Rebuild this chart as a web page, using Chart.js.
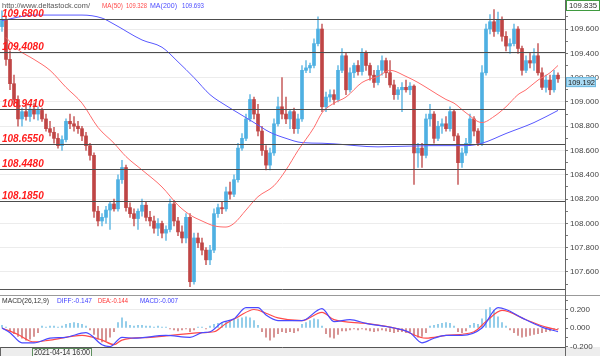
<!DOCTYPE html>
<html><head><meta charset="utf-8">
<script src="https://cdn.jsdelivr.net/npm/chart.js@4.4.0/dist/chart.umd.min.js"></script>
<style>
html,body{margin:0;padding:0;background:#fff;width:600px;height:356px;overflow:hidden}
#main{position:absolute;left:0;top:0;width:600px;height:290px}
#macd{position:absolute;left:0;top:290px;width:600px;height:66px}
</style></head><body>
<div id="main"><canvas id="c1"></canvas></div>
<div id="macd"><canvas id="c2"></canvas></div>
<script>
// ---------- DATA ----------
const opens = [
109.62,109.68,109.35,109.15,109.02,108.86,108.92,108.88,108.94,108.90,
108.93,108.86,108.78,108.75,108.70,108.64,108.69,108.84,108.82,108.80,
108.78,108.72,108.64,108.56,108.10,108.02,108.05,108.11,108.16,108.12,
108.36,108.46,108.13,108.08,108.04,108.10,108.15,108.05,108.02,107.96,
108.00,107.92,107.95,108.16,108.02,107.93,107.88,108.05,107.52,107.88,
107.84,107.78,107.70,107.78,108.08,108.13,108.12,108.26,108.24,108.36,
108.62,108.70,108.86,109.02,108.90,108.76,108.60,108.48,108.58,108.82,
108.96,108.90,108.86,108.92,108.78,108.86,109.26,109.28,109.30,109.48,
109.60,108.96,109.04,109.06,109.02,109.26,109.38,109.10,109.24,109.30,
109.25,109.40,109.30,109.22,109.16,109.26,109.34,109.24,109.14,109.06,
109.10,109.12,109.10,109.13,108.58,108.62,108.56,108.86,108.90,108.70,
108.80,108.82,108.78,108.92,108.72,108.50,108.58,108.66,108.86,108.76,
108.66,109.24,109.60,109.66,109.58,109.68,109.54,109.46,109.48,109.60,
109.44,109.26,109.34,109.32,109.38,109.24,109.12,109.18,109.10,109.22];
const highs = [
109.75,109.70,109.42,109.22,109.05,108.95,108.98,108.97,108.99,108.96,
108.95,108.90,108.84,108.79,108.74,108.72,108.86,108.90,108.88,108.84,
108.80,108.75,108.66,108.58,108.14,108.08,108.14,108.18,108.20,108.40,
108.52,108.48,108.17,108.12,108.12,108.20,108.18,108.10,108.06,108.04,
108.02,107.98,108.20,108.19,108.05,107.98,108.08,108.08,107.92,107.92,
107.88,107.80,107.82,108.12,108.16,108.18,108.30,108.34,108.40,108.66,
108.74,108.90,109.06,109.04,108.98,108.80,108.64,108.62,108.86,109.04,
109.20,109.04,108.94,108.95,108.90,109.30,109.34,109.32,109.52,109.70,
109.64,109.08,109.10,109.10,109.30,109.44,109.40,109.28,109.32,109.34,
109.44,109.42,109.32,109.26,109.30,109.38,109.36,109.34,109.18,109.12,
109.16,109.18,109.16,109.14,108.66,108.66,108.90,108.98,108.92,108.84,
108.86,108.88,108.96,108.94,108.74,108.62,108.70,108.90,108.88,108.78,
109.30,109.64,109.72,109.76,109.74,109.70,109.58,109.52,109.64,109.62,
109.46,109.38,109.40,109.44,109.48,109.28,109.22,109.22,109.26,109.24];
const lows = [
109.58,109.30,109.10,108.98,108.80,108.80,108.85,108.84,108.86,108.85,
108.84,108.76,108.72,108.66,108.62,108.60,108.67,108.78,108.76,108.74,
108.68,108.60,108.52,108.05,107.98,107.98,108.00,107.95,108.10,108.10,
108.33,108.10,108.05,107.98,107.95,108.06,108.02,107.98,107.92,107.90,
107.88,107.86,107.93,107.98,107.90,107.84,107.84,107.48,107.50,107.80,
107.74,107.66,107.66,107.76,108.05,108.08,108.10,108.20,108.22,108.34,
108.60,108.68,108.84,108.86,108.72,108.56,108.44,108.44,108.56,108.80,
108.86,108.82,108.78,108.74,108.74,108.84,109.24,109.24,109.28,109.46,
108.92,108.92,109.00,108.98,109.00,109.24,109.06,109.08,109.20,109.22,
109.22,109.26,109.18,109.12,109.14,109.22,109.20,109.12,109.02,109.02,
108.92,109.08,109.06,108.32,108.46,108.46,108.54,108.80,108.66,108.68,
108.74,108.76,108.76,108.68,108.32,108.46,108.56,108.64,108.72,108.64,
108.64,109.22,109.56,109.54,109.56,109.50,109.42,109.40,109.46,109.40,
109.22,109.24,109.28,109.26,109.22,109.10,109.08,109.06,109.08,109.16];
const closes = [
109.68,109.35,109.15,109.02,108.86,108.92,108.88,108.94,108.90,108.93,
108.86,108.78,108.75,108.70,108.64,108.69,108.84,108.82,108.80,108.78,
108.72,108.64,108.56,108.10,108.02,108.05,108.11,108.16,108.12,108.36,
108.46,108.13,108.08,108.04,108.10,108.15,108.05,108.02,107.96,108.00,
107.92,107.95,108.16,108.02,107.93,107.88,108.05,107.52,107.88,107.84,
107.78,107.70,107.78,108.08,108.13,108.12,108.26,108.24,108.36,108.62,
108.70,108.86,109.02,108.90,108.76,108.60,108.48,108.58,108.82,108.96,
108.90,108.86,108.92,108.78,108.86,109.26,109.28,109.30,109.48,109.60,
108.96,109.04,109.06,109.02,109.26,109.38,109.10,109.24,109.30,109.25,
109.40,109.30,109.22,109.16,109.26,109.34,109.24,109.14,109.06,109.10,
109.12,109.10,109.13,108.58,108.62,108.56,108.86,108.90,108.70,108.80,
108.82,108.78,108.92,108.72,108.50,108.58,108.66,108.86,108.76,108.66,
109.24,109.60,109.66,109.58,109.68,109.54,109.46,109.48,109.60,109.44,
109.26,109.34,109.32,109.38,109.24,109.12,109.18,109.10,109.22,109.19];

// moving averages (candle index, value)
const ma50Idx = [1,4,8,12,16,20,24,28,31,35,40,44,47,50,53,56,58,61,64,68,71,74,78,80,83,86,90,94,97,101,104,107,111,113,116,120,123,126,129,131,134,137,139];
const ma50Val = [109.53,109.43,109.35,109.26,109.12,108.99,108.79,108.66,108.55,108.44,108.30,108.15,108.07,108.02,107.98,107.97,108.00,108.11,108.22,108.31,108.44,108.60,108.79,108.91,108.99,109.04,109.16,109.21,109.26,109.21,109.16,109.10,109.02,108.99,108.91,108.83,108.88,108.96,109.06,109.10,109.18,109.24,109.30];
const ma200Idx = [0,8,20,25,28,35,40,44,48,52,56,59,63,67,71,75,80,83,94,107,116,120,126,133,139];
const ma200Val = [109.67,109.715,109.715,109.69,109.64,109.51,109.45,109.33,109.20,109.06,108.97,108.91,108.83,108.75,108.70,108.665,108.66,108.655,108.63,108.64,108.64,108.66,108.74,108.83,108.93];

// horizontal levels
const levels = [109.68,109.408,108.941,108.655,108.448,108.185];
const levelLabels = ['109.6800','109.4080','108.9410','108.6550','108.4480','108.1850'];

// price axis ticks
const priceTicks = [107.5,107.6,107.7,107.8,107.9,108.0,108.1,108.2,108.3,108.4,108.5,108.6,108.7,108.8,108.9,109.0,109.1,109.2,109.3,109.4,109.5,109.6,109.7,109.8];
const priceLabelled = [107.6,107.8,108.0,108.2,108.4,108.6,108.8,109.0,109.2,109.4,109.6];
const priceTopLabel = '109.835';
const lastPrice = 109.192;

// MACD
const macdHist = [
0.03,0.01,-0.03,-0.06,-0.09,-0.11,-0.13,-0.12,-0.09,-0.05,
0.02,0.01,0.02,0.02,0.01,0.02,0.04,0.05,0.06,0.05,
0.04,0.02,-0.02,-0.07,-0.12,-0.15,-0.14,-0.10,-0.04,0.06,
0.11,0.07,0.03,0.02,0.03,0.03,0.02,0.02,0.01,0.02,
0.01,0.01,-0.01,-0.02,-0.03,-0.02,-0.01,-0.04,-0.02,0.01,
0.01,-0.01,0.02,0.04,0.05,0.06,0.07,0.08,0.09,0.10,
0.11,0.12,0.11,0.08,0.03,-0.04,-0.10,-0.13,-0.10,-0.06,
-0.04,-0.05,-0.04,-0.05,-0.03,0.04,0.06,0.08,0.10,0.09,
0.02,-0.06,-0.10,-0.11,-0.07,-0.03,-0.03,-0.02,-0.01,-0.02,
-0.01,-0.02,-0.03,-0.04,-0.03,-0.02,-0.03,-0.04,-0.05,-0.04,
-0.04,-0.05,-0.04,-0.08,-0.10,-0.09,-0.05,0.02,0.03,0.04,
0.05,0.06,0.05,0.02,-0.04,-0.05,-0.03,0.03,0.05,0.04,
0.10,0.20,0.22,0.19,0.12,0.06,0.02,-0.02,-0.05,-0.08,
-0.10,-0.09,-0.08,-0.07,-0.06,-0.05,-0.04,-0.03,-0.02,-0.01];
const diffIdx = [0,2,5,8,12,16,21,25,27,30,33,41,47,50,52,55,58,61,64,66,69,75,80,83,87,91,98,102,105,108,111,115,120,124,126,130,135,139];
const diffVal = [0.0,-0.05,-0.16,-0.16,-0.11,-0.10,-0.05,-0.18,-0.20,-0.10,-0.11,-0.08,-0.10,-0.05,-0.04,0.06,0.10,0.22,0.22,0.14,0.08,0.08,0.21,0.07,0.09,0.05,0.0,-0.05,-0.16,-0.11,-0.08,-0.08,0.0,0.22,0.20,0.11,0.01,-0.04];
const deaIdx = [0,4,8,12,20,25,28,30,37,50,53,56,59,63,66,69,75,80,83,91,100,106,111,118,121,125,131,136,139];
const deaVal = [0.0,-0.07,-0.15,-0.13,-0.08,-0.13,-0.18,-0.13,-0.10,-0.05,-0.04,0.05,0.12,0.20,0.16,0.11,0.08,0.17,0.09,0.05,-0.02,-0.11,-0.08,-0.04,0.07,0.19,0.09,0.01,-0.02];
const macdTicks = [-0.2,-0.1,0,0.1,0.2,0.3];
const macdLabelled = [-0.2,0,0.2];

const headerSite = 'http://www.deltastock.com/';
const headerMA = [['MA(50)','#ff4d4d'],['109.328','#ff4d4d'],['MA(200)','#4d4dff'],['109.693','#4d4dff']];
const macdHeader = [['MACD(26,12,9)','#333'],['DIFF:-0.147','#4040ff'],['DEA:-0.144','#ff3030'],['MACD:-0.007','#4040ff']];
const cursorDate = '2021-04-14 16:00';

// ---------- CHART ----------
const FONT = 'Liberation Sans';
const xMin = -0.5, xMax = 140.75;
const AXW = 35;
const upCol = '#4eb0e2', dnCol = '#bf4545';
const upWick = '#74c0e6', dnWick = '#cc6a6a';
const idx = closes.map((_, i) => i);
const bodyCols = idx.map(i => closes[i] >= opens[i] ? upCol : dnCol);
const wickCols = idx.map(i => closes[i] >= opens[i] ? upWick : dnWick);
const near = (a, b) => Math.abs(a - b) < 1e-6;

const mainOverlay = {
  id: 'mainOverlay',
  afterDatasetsDraw(chart) {
    const {ctx, chartArea: ca, scales: {y}} = chart;
    ctx.save();
    levels.forEach((lv, k) => {
      const py = Math.round(y.getPixelForValue(lv)) + 0.5;
      ctx.strokeStyle = '#4c4c4c'; ctx.lineWidth = 1.2;
      ctx.beginPath(); ctx.moveTo(ca.left, py); ctx.lineTo(ca.right, py); ctx.stroke();
      ctx.font = 'italic bold 10px ' + FONT;
      ctx.fillStyle = '#ff1c1c'; ctx.textBaseline = 'alphabetic'; ctx.textAlign = 'left';
      ctx.fillText(levelLabels[k], 2, py - 2.5, 42);
    });
    ctx.strokeStyle = '#555'; ctx.lineWidth = 1;
    ctx.beginPath(); ctx.moveTo(0, ca.bottom + 0.5); ctx.lineTo(ca.right, ca.bottom + 0.5); ctx.stroke();
    // header
    ctx.font = '7.5px ' + FONT; ctx.textBaseline = 'middle';
    ctx.fillStyle = '#555'; ctx.fillText(headerSite, 2, 5.5, 88);
    const hx = [102, 126, 150, 182], hw = [21, 21, 27, 22];
    headerMA.forEach((h, k) => { ctx.fillStyle = h[1]; ctx.fillText(h[0], hx[k], 5.5, hw[k]); });
    ctx.restore();
  },
  afterDraw(chart) {
    const {ctx, chartArea: ca, scales: {y}} = chart;
    ctx.save();
    ctx.font = '8px ' + FONT; ctx.textBaseline = 'middle'; ctx.textAlign = 'left';
    ctx.fillStyle = '#fff'; ctx.fillRect(ca.right + 1, 0, 34, 11);
    ctx.strokeStyle = '#3f9a3f'; ctx.lineWidth = 1;
    ctx.strokeRect(ca.right + 1.5, 0.5, 33, 10);
    ctx.fillStyle = '#333'; ctx.fillText(priceTopLabel, ca.right + 4, 6, 28);
    const py = y.getPixelForValue(lastPrice);
    ctx.fillStyle = '#a9daf3'; ctx.fillRect(ca.right + 1, py - 1.5, 30, 10);
    ctx.strokeStyle = '#6bb8e0'; ctx.strokeRect(ca.right + 1.5, py - 1, 29, 9);
    ctx.fillStyle = '#222'; ctx.fillText(lastPrice.toFixed(3), ca.right + 3, py + 3.8, 27);
    ctx.restore();
  }
};

new Chart(document.getElementById('c1'), {
  type: 'bar',
  data: { datasets: [
    { type: 'bar', data: idx.map(i => ({x: i, y: [lows[i], highs[i]]})), backgroundColor: wickCols, barThickness: 1, grouped: false, order: 4 },
    { type: 'bar', data: idx.map(i => ({x: i, y: [opens[i], closes[i]]})), backgroundColor: bodyCols, barThickness: 3, grouped: false, order: 3 },
    { type: 'line', data: ma50Idx.map((x, k) => ({x, y: ma50Val[k]})), borderColor: '#ff6b6b', borderWidth: 1, pointRadius: 0, cubicInterpolationMode: 'monotone', order: 1 },
    { type: 'line', data: ma200Idx.map((x, k) => ({x, y: ma200Val[k]})), borderColor: '#5858ff', borderWidth: 1, pointRadius: 0, cubicInterpolationMode: 'monotone', order: 2 }
  ]},
  options: {
    responsive: true, maintainAspectRatio: false, animation: false,
    layout: { padding: { top: 0, bottom: 1, left: 0, right: 0 } },
    plugins: { legend: { display: false }, tooltip: { enabled: false } },
    scales: {
      x: { type: 'linear', min: xMin, max: xMax, offset: false, display: false },
      y: {
        position: 'right', min: 107.46, max: 109.839,
        afterBuildTicks: s => { s.ticks = priceTicks.map(v => ({value: v})); },
        afterFit: s => { s.width = AXW; s.paddingTop = 0; s.paddingBottom = 0; },
        ticks: {
          autoSkip: false, padding: 2, color: '#444', font: { family: FONT, size: 8 },
          callback: v => priceLabelled.some(p => near(p, v)) ? Number(v).toFixed(3) : ''
        },
        grid: {
          color: c => (c.tick && priceLabelled.some(p => near(p, c.tick.value))) ? '#ececec' : 'rgba(0,0,0,0)',
          tickColor: '#777', tickLength: 3
        },
        border: { color: '#666', width: 1 }
      }
    }
  },
  plugins: [mainOverlay]
});

const macdOverlay = {
  id: 'macdOverlay',
  beforeDraw(chart) {
    const {ctx, chartArea: ca, width, height} = chart;
    ctx.save();
    ctx.fillStyle = '#ededed';
    ctx.fillRect(0, ca.bottom, width, height - ca.bottom);
    ctx.restore();
  },
  afterDraw(chart) {
    const {ctx, chartArea: ca, width, height} = chart;
    ctx.save();
    ctx.strokeStyle = '#999'; ctx.lineWidth = 1;
    ctx.beginPath(); ctx.moveTo(0, ca.top - 0.5); ctx.lineTo(width, ca.top - 0.5); ctx.stroke();
    ctx.strokeStyle = '#555';
    ctx.beginPath(); ctx.moveTo(0, ca.bottom + 0.5); ctx.lineTo(ca.right, ca.bottom + 0.5); ctx.stroke();
    ctx.strokeStyle = '#666';
    ctx.beginPath(); ctx.moveTo(ca.right + 0.5, 0); ctx.lineTo(ca.right + 0.5, height); ctx.stroke();
    ctx.beginPath(); ctx.moveTo(0.5, ca.bottom); ctx.lineTo(0.5, height); ctx.stroke();
    ctx.font = '8px ' + FONT; ctx.textBaseline = 'middle'; ctx.textAlign = 'left';
    const hx = [2, 57, 98, 140], hw = [47, 35, 30, 38];
    macdHeader.forEach((h, k) => { ctx.fillStyle = h[1]; ctx.fillText(h[0], hx[k], ca.top + 5, hw[k]); });
    ctx.fillStyle = '#f6f6f6'; ctx.fillRect(32, ca.bottom + 1, 60, height - ca.bottom - 1);
    ctx.strokeStyle = '#5d8f5d';
    ctx.strokeRect(32.5, ca.bottom + 1.5, 59, height - ca.bottom - 1);
    ctx.fillStyle = '#333'; ctx.font = '8.5px ' + FONT;
    ctx.fillText(cursorDate, 34, ca.bottom + 5.5, 56);
    ctx.restore();
  }
};

new Chart(document.getElementById('c2'), {
  type: 'bar',
  data: { datasets: [
    { type: 'bar', data: idx.map(i => ({x: i, y: macdHist[i]})), backgroundColor: macdHist.map(v => v >= 0 ? '#7fc4e6' : '#cf7f7f'), barThickness: 1, grouped: false, order: 3 },
    { type: 'line', data: diffIdx.map((x, k) => ({x, y: diffVal[k]})), borderColor: '#4a4aff', borderWidth: 1.2, pointRadius: 0, cubicInterpolationMode: 'monotone', order: 1 },
    { type: 'line', data: deaIdx.map((x, k) => ({x, y: deaVal[k]})), borderColor: '#ff4a4a', borderWidth: 1.2, pointRadius: 0, cubicInterpolationMode: 'monotone', order: 2 }
  ]},
  options: {
    responsive: true, maintainAspectRatio: false, animation: false,
    layout: { padding: { top: 6, bottom: 9, left: 0, right: 0 } },
    plugins: { legend: { display: false }, tooltip: { enabled: false } },
    scales: {
      x: { type: 'linear', min: xMin, max: xMax, offset: false, display: false },
      y: {
        position: 'right', min: -0.205, max: 0.346,
        afterBuildTicks: s => { s.ticks = macdTicks.map(v => ({value: v})); },
        afterFit: s => { s.width = AXW; s.paddingTop = 0; s.paddingBottom = 0; },
        ticks: {
          autoSkip: false, padding: 2, color: '#444', font: { family: FONT, size: 8 },
          callback: v => macdLabelled.some(p => near(p, v)) ? Number(v).toFixed(3) : ''
        },
        grid: {
          color: c => (c.tick && near(c.tick.value, 0.2)) ? '#ececec' : 'rgba(0,0,0,0)',
          tickColor: '#777', tickLength: 3
        },
        border: { color: '#666', width: 1 }
      }
    }
  },
  plugins: [macdOverlay]
});
</script>
</body></html>
